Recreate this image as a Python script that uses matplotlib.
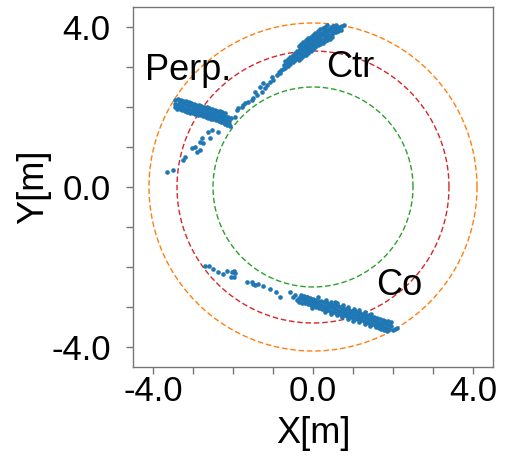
import matplotlib
matplotlib.use("Agg")
import matplotlib.pyplot as plt
import numpy as np

# ---- data ----
ctr_x = [-0.72, -0.66, -0.60, -0.54, -0.48, -0.42, -0.36, -0.30, -0.24, -0.18, -0.12, -0.06, 0.00,
         0.06, 0.12, 0.18, 0.24, 0.30, 0.36, 0.42, 0.48, 0.54, 0.60, 0.66, 0.72, 0.78,
         -0.69, -0.63, -0.57, -0.51, -0.45, -0.39, -0.33, -0.27, -0.21, -0.15, -0.09, -0.03,
         0.03, 0.09, 0.15, 0.21, 0.27, 0.33, 0.39, 0.45, 0.51, 0.57,
         -0.69, -0.63, -0.57, -0.51, -0.45, -0.39, -0.33, -0.27, -0.21, -0.15, -0.09, -0.03,
         0.03, 0.09, 0.15, 0.21, 0.27, 0.33, 0.39, 0.45, 0.51, 0.57, 0.63, 0.69,
         -0.36, -0.30, -0.24, -0.18, -0.12, -0.06, 0.00, 0.06, 0.12, 0.18, 0.24, 0.30, 0.36,
         -0.36, -0.30, -0.24, -0.18, -0.12, -0.06, 0.00, 0.06, 0.12, 0.18, 0.24, 0.30, 0.36,
         0.42, 0.48,
         -0.91, -0.99, -1.08, -0.83, -1.16, -1.24, -1.33, -1.28, -1.45, -1.49, -1.53, -1.62,
         -1.70, -1.74, -1.78, -1.87, -1.91, -1.20, -1.41, -1.03, -1.95, -0.80, -0.86, -0.75]
ctr_y = [3.05, 3.10, 3.15, 3.20, 3.25, 3.30, 3.35, 3.40, 3.45, 3.49, 3.54, 3.58, 3.63,
         3.67, 3.72, 3.76, 3.79, 3.82, 3.86, 3.89, 3.92, 3.95, 3.98, 4.00, 4.02, 4.04,
         3.16, 3.21, 3.26, 3.31, 3.36, 3.41, 3.46, 3.51, 3.56, 3.60, 3.65, 3.69,
         3.74, 3.78, 3.83, 3.86, 3.89, 3.93, 3.96, 3.99, 4.02, 4.05,
         2.98, 3.03, 3.08, 3.13, 3.18, 3.23, 3.28, 3.33, 3.38, 3.42, 3.47, 3.51,
         3.56, 3.60, 3.65, 3.68, 3.71, 3.75, 3.78, 3.81, 3.84, 3.87, 3.90, 3.92,
         3.53, 3.58, 3.63, 3.67, 3.72, 3.76, 3.81, 3.85, 3.90, 3.94, 3.97, 4.00, 4.04,
         3.17, 3.22, 3.27, 3.31, 3.36, 3.40, 3.45, 3.49, 3.54, 3.58, 3.61, 3.64, 3.68,
         3.71, 3.74,
         2.80, 2.67, 2.63, 2.84, 2.55, 2.59, 2.51, 2.38, 2.38, 2.22, 2.18, 2.13,
         2.09, 2.05, 1.99, 1.97, 1.93, 2.47, 2.30, 2.76, 1.76, 2.92, 2.88, 2.96]

perp_x = [-3.37, -3.31, -3.24, -3.18, -3.11, -3.05, -2.98, -2.92, -2.85, -2.79, -2.72, -2.66, -2.59,
          -2.53, -2.46, -2.40, -2.33, -2.27, -2.20,
          -3.36, -3.29, -3.23, -3.16, -3.10, -3.03, -2.97, -2.90, -2.84, -2.77, -2.71, -2.64, -2.58,
          -2.51, -2.45, -2.38, -2.32, -2.25, -2.19, -2.12, -2.06,
          -3.41, -3.35, -3.28, -3.22, -3.15, -3.09, -3.02, -2.96, -2.89, -2.83, -2.76, -2.70, -2.63,
          -2.57, -2.50, -2.44, -2.37, -2.31, -2.24, -2.18, -2.11,
          -3.40, -3.33, -3.27, -3.20, -3.14, -3.07, -3.01, -2.94, -2.88, -2.81, -2.75, -2.68, -2.62,
          -2.55, -2.49, -2.42, -2.36, -2.29, -2.23, -2.16, -2.10,
          -2.15, -2.08, -2.20, -3.44, -3.45, -3.44,
          -2.62, -2.53, -2.37, -2.78, -2.83, -2.74, -2.58, -2.95, -3.03, -2.83, -2.91, -3.20,
          -3.24, -3.49, -3.66]
perp_y = [2.20, 2.18, 2.16, 2.14, 2.12, 2.10, 2.08, 2.06, 2.04, 2.02, 2.01, 1.99, 1.97,
          1.95, 1.93, 1.91, 1.89, 1.87, 1.85,
          2.11, 2.09, 2.07, 2.05, 2.03, 2.02, 2.00, 1.98, 1.96, 1.94, 1.92, 1.90, 1.88,
          1.86, 1.84, 1.83, 1.81, 1.79, 1.77, 1.75, 1.73,
          2.04, 2.02, 2.00, 1.98, 1.96, 1.95, 1.93, 1.91, 1.89, 1.87, 1.85, 1.83, 1.81,
          1.79, 1.77, 1.76, 1.74, 1.72, 1.70, 1.68, 1.66,
          1.96, 1.94, 1.92, 1.90, 1.88, 1.86, 1.84, 1.82, 1.80, 1.79, 1.77, 1.75, 1.73,
          1.71, 1.69, 1.67, 1.65, 1.63, 1.61, 1.59, 1.57,
          1.55, 1.52, 1.58, 2.17, 2.08, 1.99,
          1.38, 1.43, 1.38, 1.22, 1.13, 1.09, 1.22, 1.01, 0.97, 0.93, 0.88, 0.76,
          0.68, 0.43, 0.38]

co_x = [-0.35, -0.28, -0.21, -0.14, -0.07, 0.00, 0.07, 0.14, 0.21, 0.28, 0.35, 0.42, 0.49, 0.56,
        0.63, 0.70, 0.77, 0.84, 0.91, 0.98, 1.05, 1.12, 1.19, 1.26, 1.33, 1.40, 1.47, 1.54,
        1.61, 1.68, 1.75, 1.82, 1.89, 1.96,
        -0.29, -0.22, -0.15, -0.08, -0.01, 0.06, 0.13, 0.20, 0.27, 0.34, 0.41, 0.48, 0.55, 0.62,
        0.69, 0.76, 0.83, 0.90, 0.97, 1.04, 1.11, 1.18, 1.25, 1.32, 1.39, 1.46, 1.53, 1.60,
        1.67, 1.74, 1.81, 1.88, 1.95,
        -0.34, -0.27, -0.20, -0.13, -0.06, 0.01, 0.08, 0.15, 0.22, 0.29, 0.36, 0.43, 0.50, 0.57,
        0.64, 0.71, 0.78, 0.85, 0.92, 0.99, 1.06, 1.13, 1.20, 1.27, 1.34, 1.41, 1.48, 1.55,
        1.62, 1.69, 1.76, 1.83, 1.90,
        0.32, 0.46, 0.60, 0.74, 0.88, 1.02, 1.16, 1.30, 1.44,
        0.31, 0.45, 0.59, 0.73, 0.87, 1.01, 1.15, 1.29, 1.43, 1.57,
        1.71, 1.85, 1.99, 2.06, 1.78, 1.64, 2.09,
        -0.49, -0.41, -0.28, -0.16, -0.08, -0.03, 0.13, 0.09,
        -0.45, 0.30, 0.55,
        -2.70, -2.59, -2.49, -2.37, -2.24, -2.16, -2.03, -1.98, -1.95, -2.06, -1.98,
        -1.66, -1.53, -1.49, -1.45, -1.37, -1.24, -1.08, -0.92, -0.83, -0.58]
co_y = [-2.78, -2.80, -2.82, -2.84, -2.86, -2.89, -2.91, -2.93, -2.95, -2.97, -2.99, -3.01, -3.03, -3.05,
        -3.07, -3.10, -3.12, -3.14, -3.16, -3.18, -3.20, -3.22, -3.24, -3.26, -3.28, -3.31, -3.33, -3.35,
        -3.37, -3.39, -3.41, -3.43, -3.45, -3.47,
        -2.71, -2.73, -2.75, -2.77, -2.79, -2.82, -2.84, -2.86, -2.88, -2.90, -2.92, -2.94, -2.96, -2.98,
        -3.00, -3.03, -3.05, -3.07, -3.09, -3.11, -3.13, -3.15, -3.17, -3.19, -3.21, -3.24, -3.26, -3.28,
        -3.30, -3.32, -3.34, -3.36, -3.38,
        -2.87, -2.89, -2.91, -2.93, -2.95, -2.98, -3.00, -3.02, -3.04, -3.06, -3.08, -3.10, -3.12, -3.14,
        -3.16, -3.19, -3.21, -3.23, -3.25, -3.27, -3.29, -3.31, -3.33, -3.35, -3.37, -3.40, -3.42, -3.44,
        -3.46, -3.48, -3.50, -3.52, -3.54,
        -2.83, -2.87, -2.91, -2.96, -3.00, -3.04, -3.08, -3.12, -3.17,
        -3.13, -3.17, -3.21, -3.26, -3.30, -3.34, -3.38, -3.42, -3.47, -3.51,
        -3.55, -3.59, -3.58, -3.55, -3.57, -3.53, -3.53,
        -2.74, -2.83, -2.78, -2.74, -2.83, -3.03, -2.74, -2.95,
        -2.70, -3.08, -2.87,
        -1.97, -1.97, -2.05, -2.13, -2.18, -2.10, -2.12, -2.10, -2.16, -2.24, -2.24,
        -2.37, -2.37, -2.43, -2.45, -2.43, -2.47, -2.56, -2.63, -2.76, -2.62]

circle_radii = [2.5, 3.4, 4.1]
circle_colors = ["#2ca02c", "#d62728", "#ff7f0e"]

labels = ["Perp.", "Ctr", "Co"]
label_x = [-4.2, 0.33, 1.58]
label_y = [2.68, 2.75, -2.70]

major_ticks = [-4.0, 0.0, 4.0]
minor_ticks = [-3, -2, -1, 1, 2, 3]
tick_labels = ["-4.0", "0.0", "4.0"]

# ---- plot ----
plt.rcParams['font.family'] = ['Liberation Sans', 'DejaVu Sans']
fig = plt.figure(figsize=(5.07, 4.61), dpi=100)
ax = fig.add_axes([133/507, 1-367/461, 360/507, 360/461])

theta = np.linspace(0, 2*np.pi, 400)
for r, c in zip(circle_radii, circle_colors):
    ax.plot(r*np.cos(theta), r*np.sin(theta), color=c, lw=1.0, ls=(0, (4, 2)))

pts_x = ctr_x + perp_x + co_x
pts_y = ctr_y + perp_y + co_y
ax.scatter(pts_x, pts_y, s=11, color="#1f77b4", linewidths=0, zorder=3)

for t, x, y in zip(labels, label_x, label_y):
    ax.text(x, y, t, fontsize=26, ha='left', va='baseline', color='black', zorder=4)

ax.set_xlim(-4.5, 4.5)
ax.set_ylim(-4.5, 4.5)
ax.set_xticks(major_ticks)
ax.set_xticklabels(tick_labels)
ax.set_yticks(major_ticks)
ax.set_yticklabels(tick_labels)
ax.set_xticks(minor_ticks, minor=True)
ax.set_yticks(minor_ticks, minor=True)
for which in ['major', 'minor']:
    ax.tick_params(axis='both', which=which, direction='out', length=5, width=1,
                   color='#777777', labelsize=25)
ax.tick_params(axis='x', which='major', pad=0.5)
ax.tick_params(axis='y', which='major', pad=11)
for s in ax.spines.values():
    s.set_color('#777777')
    s.set_linewidth(1)
ax.set_xlabel("X[m]", fontsize=26, labelpad=6)
ax.set_ylabel("Y[m]", fontsize=26, labelpad=0)

fig.savefig("out.png", dpi=100)
